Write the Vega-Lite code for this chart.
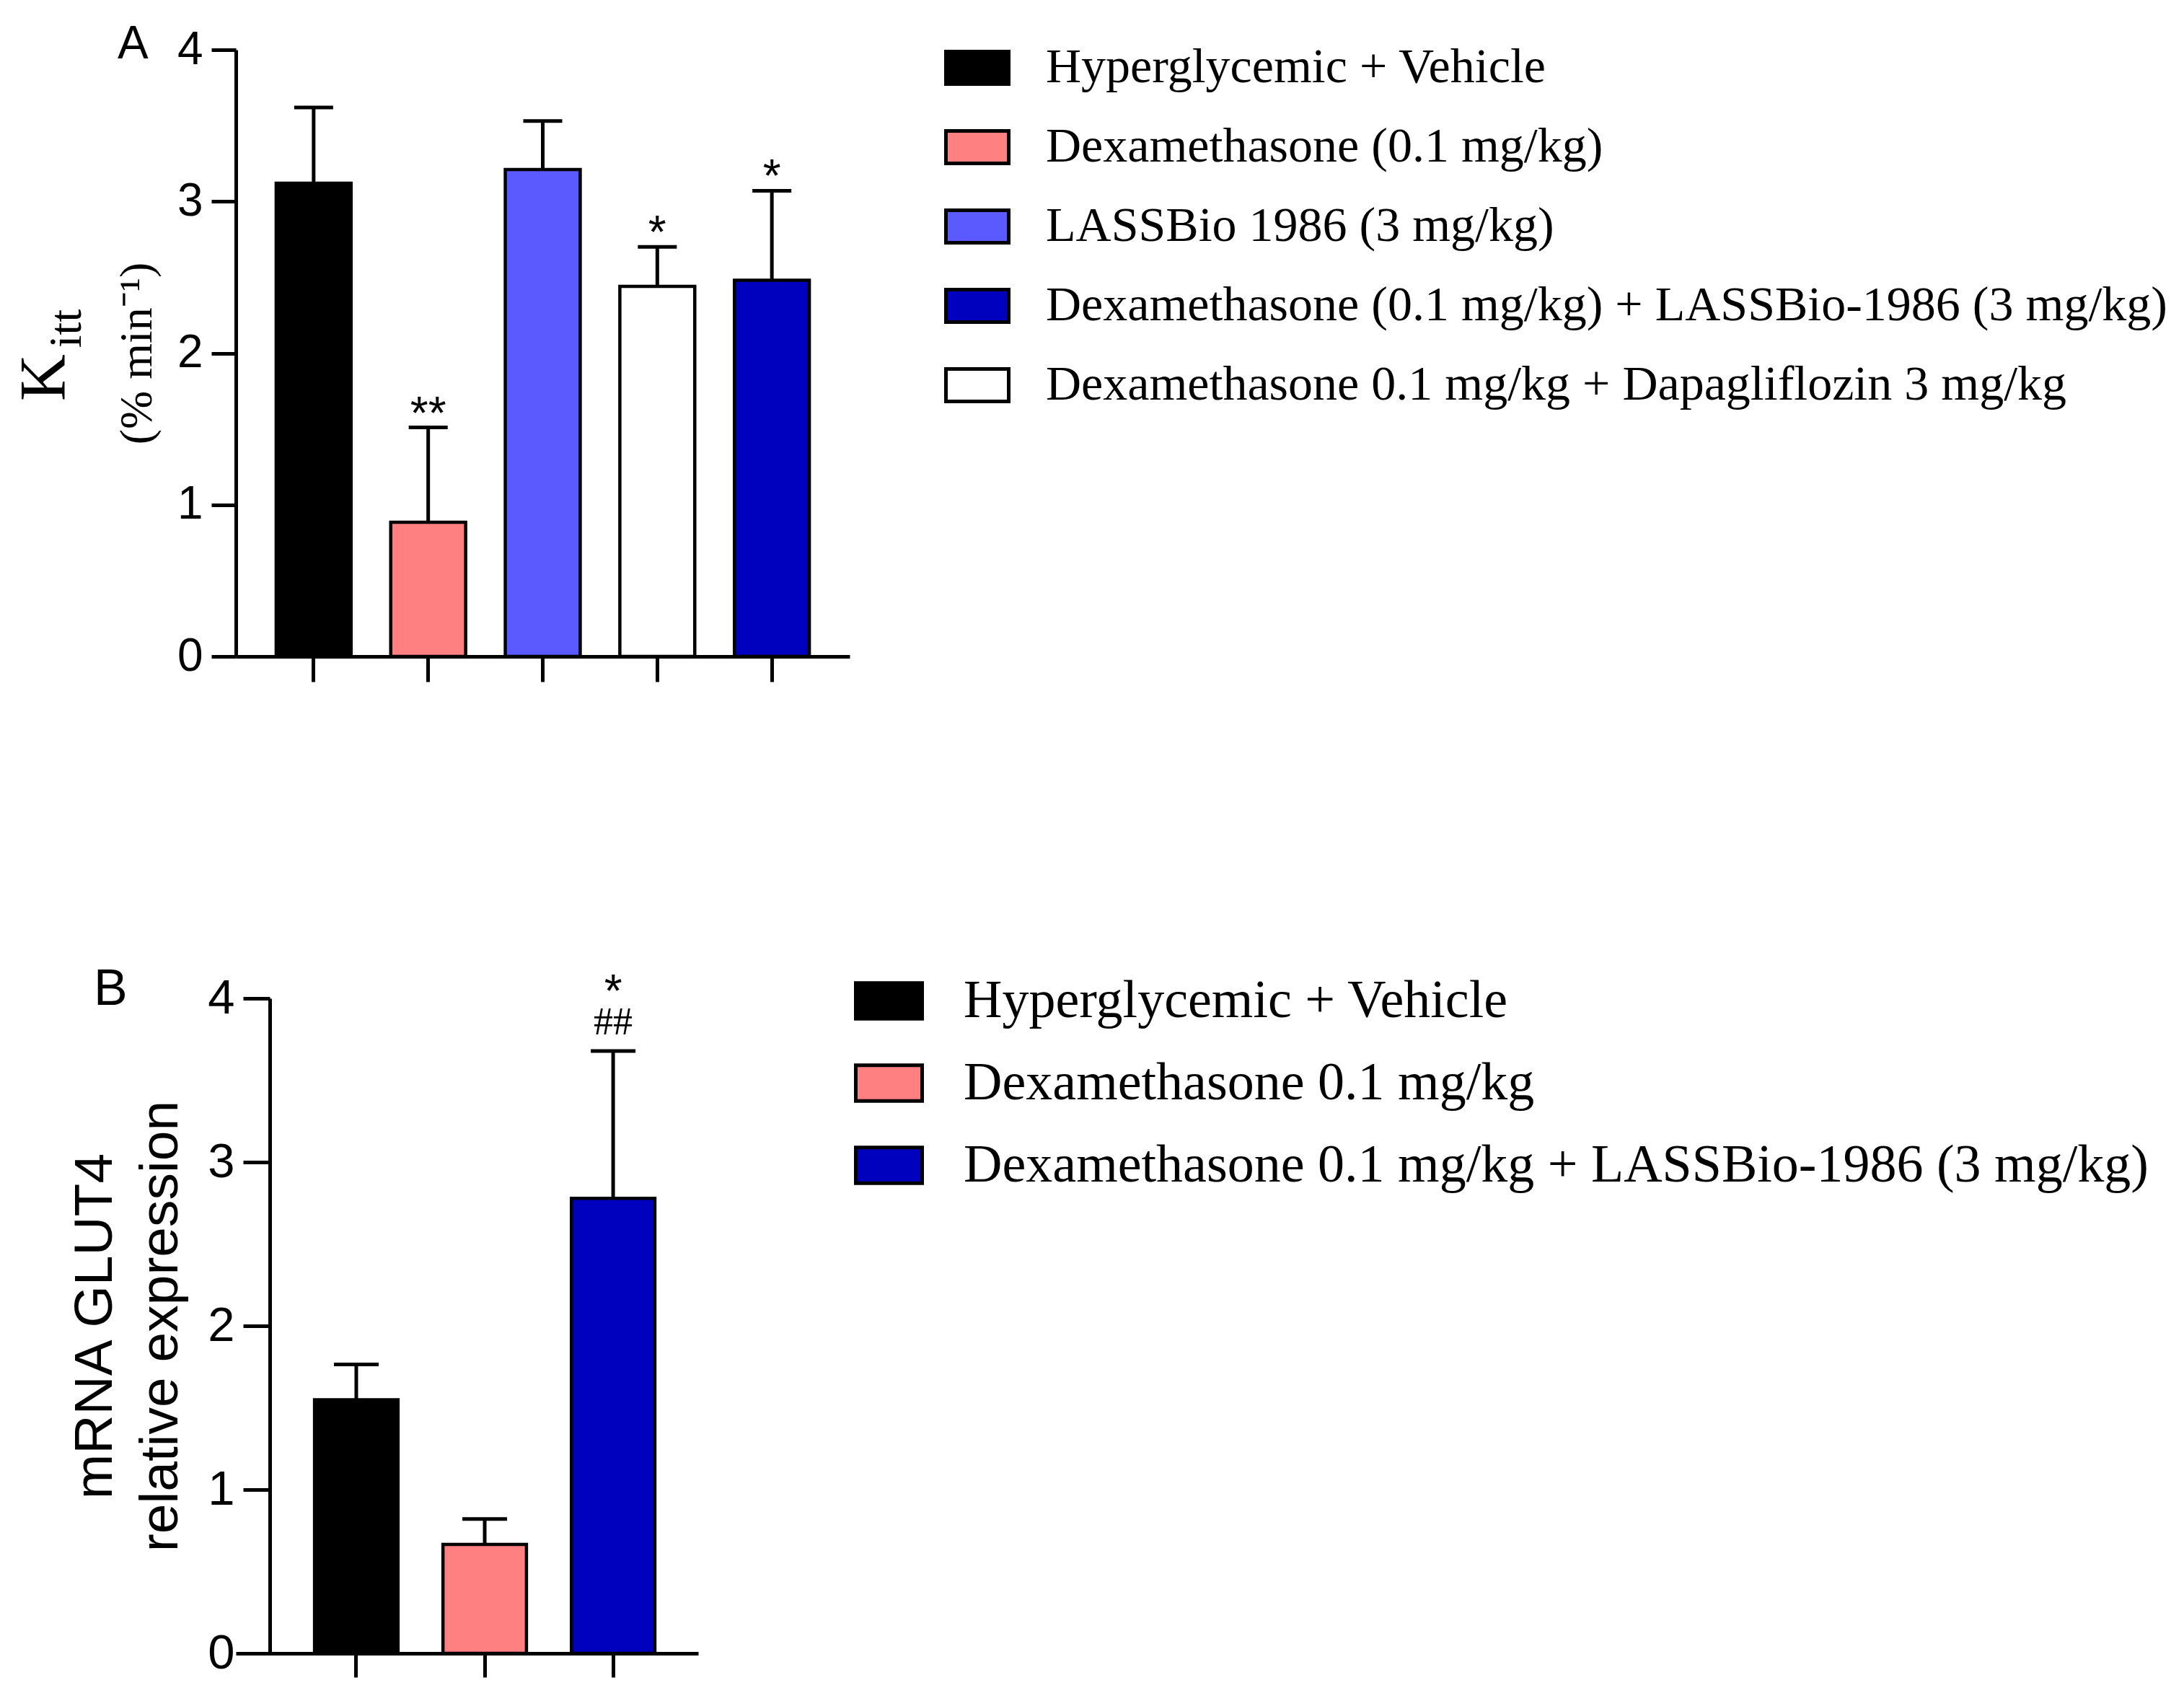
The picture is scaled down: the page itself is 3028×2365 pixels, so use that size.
{
  "$schema": "https://vega.github.io/schema/vega-lite/v6.json",
  "background": "white",
  "padding": {"left": 17, "top": 30, "right": 0, "bottom": 0},
  "bounds": "flush",
  "spacing": 474,
  "config": {
    "view": {"stroke": null},
    "axis": {
      "grid": false,
      "labelFont": "Liberation Sans",
      "labelColor": "black",
      "domainColor": "black",
      "tickColor": "black",
      "titleColor": "black",
      "domainWidth": 5,
      "tickWidth": 5,
      "labelPadding": 12
    }
  },
  "datasets": {
    "a": [
      {"group": "Hyperglycemic + Vehicle", "mean": 3.12, "upper": 3.62, "star": "", "starY": 3.62},
      {"group": "Dexamethasone (0.1 mg/kg)", "mean": 0.885, "upper": 1.51, "star": "**", "starY": 1.675},
      {"group": "LASSBio 1986 (3 mg/kg)", "mean": 3.21, "upper": 3.53, "star": "", "starY": 3.53},
      {"group": "Dexamethasone 0.1 mg/kg + Dapagliflozin 3 mg/kg", "mean": 2.44, "upper": 2.7, "star": "*", "starY": 2.866},
      {"group": "Dexamethasone (0.1 mg/kg) + LASSBio-1986 (3 mg/kg)", "mean": 2.48, "upper": 3.07, "star": "*", "starY": 3.238}
    ],
    "b": [
      {"group": "Hyperglycemic + Vehicle", "mean": 1.549, "upper": 1.764, "star": "", "starY": 1.764, "hash": "", "hashY": 1.764},
      {"group": "Dexamethasone 0.1 mg/kg", "mean": 0.665, "upper": 0.821, "star": "", "starY": 0.821, "hash": "", "hashY": 0.821},
      {"group": "Dexamethasone 0.1 mg/kg + LASSBio-1986 (3 mg/kg)", "mean": 2.779, "upper": 3.678, "star": "*", "starY": 4.11, "hash": "##", "hashY": 3.86}
    ]
  },
  "resolve": {"scale": {"fill": "independent"}, "legend": {"fill": "independent"}},
  "vconcat": [
    {
      "width": 851,
      "height": 841,
      "title": {"text": "A", "anchor": "start", "frame": "group", "font": "Liberation Sans", "fontSize": 64, "fontWeight": "normal", "color": "black", "baseline": "alphabetic", "dx": -164, "dy": 108, "offset": 0},
      "data": {"name": "a"},
      "resolve": {"axis": {"y": "independent"}},
      "layer": [
        {
          "mark": {"type": "bar", "stroke": "black", "strokeWidth": 4.5},
          "encoding": {
            "x": {"field": "group", "type": "nominal", "sort": null, "scale": {"paddingInner": 0.346, "paddingOuter": 0.352}, "axis": {"labels": false, "title": null, "tickSize": 35}},
            "y": {"field": "mean", "type": "quantitative", "scale": {"domain": [0, 4], "nice": false},
              "axis": {"orient": "left", "values": [0, 1, 2, 3, 4], "format": "d", "tickSize": 34, "labelFontSize": 64, "title": "(% min⁻¹)", "titleFont": "Liberation Serif", "titleFontSize": 64, "titleFontWeight": "normal", "titleAngle": -90, "titleBaseline": "alphabetic", "titleX": -118}},
            "fill": {"field": "group", "type": "nominal",
              "scale": {"domain": ["Hyperglycemic + Vehicle", "Dexamethasone (0.1 mg/kg)", "LASSBio 1986 (3 mg/kg)", "Dexamethasone (0.1 mg/kg) + LASSBio-1986 (3 mg/kg)", "Dexamethasone 0.1 mg/kg + Dapagliflozin 3 mg/kg"],
                "range": ["#000000", "#FF8080", "#5A5AFF", "#0000BF", "#FFFFFF"]},
              "legend": {"orient": "none", "legendX": 982, "legendY": -21, "title": null, "padding": 0, "direction": "vertical",
                "symbolType": "M-1,-0.52H1V0.52H-1Z", "symbolSize": 7569, "symbolStrokeColor": "black", "symbolStrokeWidth": 5, "symbolOpacity": 1,
                "labelFont": "Liberation Serif", "labelFontSize": 68, "labelColor": "black", "labelLimit": 3000, "labelOffset": 49, "rowPadding": 30}}
          }
        },
        {
          "mark": {"type": "rule", "strokeWidth": 5, "color": "black"},
          "encoding": {
            "x": {"field": "group", "type": "nominal", "sort": null, "scale": {"paddingInner": 0.346, "paddingOuter": 0.352}, "axis": {"labels": false, "title": null, "tickSize": 35}},
            "y": {"field": "upper", "type": "quantitative", "scale": {"domain": [0, 4], "nice": false},
              "axis": {"orient": "left", "labels": false, "ticks": false, "domain": false, "title": "K", "titleFont": "Liberation Serif", "titleFontSize": 90, "titleFontWeight": "normal", "titleAngle": -90, "titleBaseline": "alphabetic", "titleX": -238, "titleY": 454}},
            "y2": {"field": "mean"}
          }
        },
        {
          "mark": {"type": "tick", "thickness": 5, "size": 54, "color": "black", "opacity": 1},
          "encoding": {
            "x": {"field": "group", "type": "nominal", "sort": null, "scale": {"paddingInner": 0.346, "paddingOuter": 0.352}, "axis": {"labels": false, "title": null, "tickSize": 35}},
            "y": {"field": "upper", "type": "quantitative", "scale": {"domain": [0, 4], "nice": false},
              "axis": {"orient": "left", "labels": false, "ticks": false, "domain": false, "title": "itt", "titleFont": "Liberation Serif", "titleFontSize": 64, "titleFontWeight": "normal", "titleAngle": -90, "titleBaseline": "alphabetic", "titleX": -216, "titleY": 386}}
          }
        },
        {
          "mark": {"type": "text", "font": "Liberation Sans", "fontSize": 64, "color": "black", "baseline": "alphabetic", "dy": 37},
          "encoding": {
            "x": {"field": "group", "type": "nominal", "sort": null, "scale": {"paddingInner": 0.346, "paddingOuter": 0.352}, "axis": {"labels": false, "title": null, "tickSize": 35}},
            "y": {"field": "starY", "type": "quantitative", "scale": {"domain": [0, 4], "nice": false}, "axis": null},
            "text": {"field": "star"}
          }
        }
      ]
    },
    {
      "width": 641,
      "height": 908,
      "title": {"text": "B", "anchor": "start", "frame": "group", "font": "Liberation Sans", "fontSize": 70, "fontWeight": "normal", "color": "black", "baseline": "alphabetic", "dx": -197, "dy": 124, "offset": 0},
      "data": {"name": "b"},
      "layer": [
        {
          "mark": {"type": "bar", "stroke": "black", "strokeWidth": 4.5},
          "encoding": {
            "x": {"field": "group", "type": "nominal", "sort": null, "scale": {"paddingInner": 0.35, "paddingOuter": 0.475, "align": 0.645}, "axis": {"labels": false, "title": null, "tickSize": 33}},
            "y": {"field": "mean", "type": "quantitative", "scale": {"domain": [0, 4], "nice": false},
              "axis": {"orient": "left", "offset": -47, "values": [0, 1, 2, 3, 4], "format": "d", "tickSize": 37, "labelFontSize": 67, "title": ["mRNA GLUT4", "relative expression"], "titleFont": "Liberation Sans", "titleFontSize": 75, "titleFontWeight": "normal", "titleLineHeight": 91, "titleAngle": -90, "titleBaseline": "alphabetic", "titleX": -220}},
            "fill": {"field": "group", "type": "nominal",
              "scale": {"domain": ["Hyperglycemic + Vehicle", "Dexamethasone 0.1 mg/kg", "Dexamethasone 0.1 mg/kg + LASSBio-1986 (3 mg/kg)"],
                "range": ["#000000", "#FF8080", "#0000BF"]},
              "legend": {"orient": "none", "legendX": 857, "legendY": -45, "title": null, "padding": 0, "direction": "vertical",
                "symbolType": "M-1,-0.54H1V0.54H-1Z", "symbolSize": 8464, "symbolStrokeColor": "black", "symbolStrokeWidth": 5, "symbolOpacity": 1,
                "labelFont": "Liberation Serif", "labelFontSize": 74, "labelColor": "black", "labelLimit": 3000, "labelOffset": 55, "rowPadding": 28}}
          }
        },
        {
          "mark": {"type": "rule", "strokeWidth": 5, "color": "black"},
          "encoding": {
            "x": {"field": "group", "type": "nominal", "sort": null},
            "y": {"field": "upper", "type": "quantitative"},
            "y2": {"field": "mean"}
          }
        },
        {
          "mark": {"type": "tick", "thickness": 5, "size": 62, "color": "black", "opacity": 1},
          "encoding": {
            "x": {"field": "group", "type": "nominal", "sort": null},
            "y": {"field": "upper", "type": "quantitative"}
          }
        },
        {
          "mark": {"type": "text", "font": "Liberation Sans", "fontSize": 64, "color": "black", "baseline": "alphabetic", "dy": 37},
          "encoding": {
            "x": {"field": "group", "type": "nominal", "sort": null},
            "y": {"field": "starY", "type": "quantitative"},
            "text": {"field": "star"}
          }
        },
        {
          "mark": {"type": "text", "font": "Liberation Serif", "fontSize": 54, "color": "black", "baseline": "alphabetic", "dy": 18},
          "encoding": {
            "x": {"field": "group", "type": "nominal", "sort": null},
            "y": {"field": "hashY", "type": "quantitative"},
            "text": {"field": "hash"}
          }
        }
      ]
    }
  ]
}
